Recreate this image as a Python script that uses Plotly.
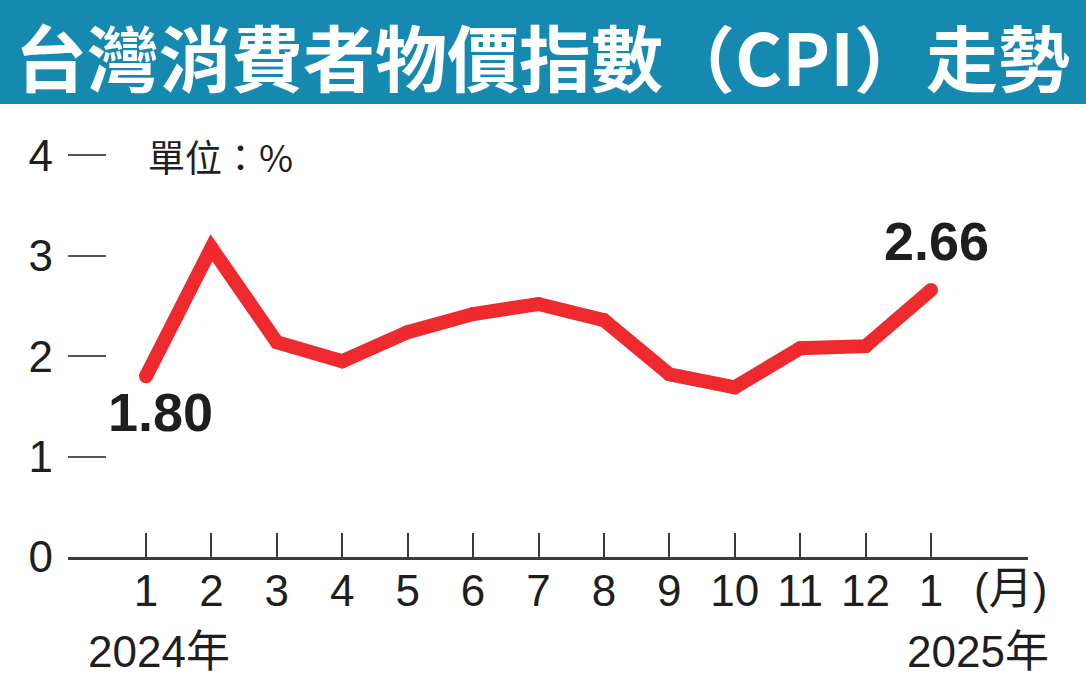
import plotly.graph_objects as go

# ---- data ----
month_labels = ["1", "2", "3", "4", "5", "6", "7", "8", "9", "10", "11", "12", "1"]
cpi_values = [1.80, 3.08, 2.14, 1.95, 2.24, 2.42, 2.52, 2.36, 1.82, 1.69, 2.08, 2.10, 2.66]
y_tick_vals = [0, 1, 2, 3, 4]
year_labels = ["2024年", "2025年"]
title_parts = ["台灣消費者物價指數", "（CPI）走勢"]
unit_text = "單位：%"
month_unit_text = "(月)"

x_pos = list(range(1, len(month_labels) + 1))

W, H = 1086, 681
L, R, T, B = 68, 58, 110, 123.5
plot_w = W - L - R
plot_h = H - T - B


def px_x(p):
    return (p - L) / plot_w


def px_y(p):
    return (H - B - p) / plot_h


RED = "#ee2a2e"
TXT = "#1e1e1e"
TITLE_SIZE = 72
TITLE_LEFT = 14

fig = go.Figure()
fig.add_trace(go.Scatter(
    x=x_pos, y=cpi_values, mode="lines+markers",
    line=dict(color=RED, width=14),
    marker=dict(color=RED, size=14, line=dict(width=0)),
    hoverinfo="skip", showlegend=False, cliponaxis=False,
))

title_font = dict(family="Noto Sans CJK TC", size=TITLE_SIZE, color="white", weight="bold")
annotations = [
    dict(x=px_x(TITLE_LEFT), y=px_y(0.5), xref="paper", yref="paper", text=title_parts[0],
         xanchor="left", yanchor="top", showarrow=False, borderpad=0, font=title_font),
    dict(x=px_x(TITLE_LEFT + TITLE_SIZE * len(title_parts[0])), y=px_y(0.5),
         xref="paper", yref="paper", text=title_parts[1],
         xanchor="left", yanchor="top", showarrow=False, borderpad=0, font=title_font),
    dict(x=x_pos[0], y=cpi_values[0], xref="x", yref="y", text=f"{cpi_values[0]:.2f}",
         xshift=14, yshift=-36, showarrow=False,
         font=dict(family="Liberation Sans", size=54, color=TXT, weight="bold")),
    dict(x=x_pos[-1], y=cpi_values[-1], xref="x", yref="y", text=f"{cpi_values[-1]:.2f}",
         xshift=5, yshift=49, showarrow=False,
         font=dict(family="Liberation Sans", size=54, color=TXT, weight="bold")),
    dict(x=px_x(146), y=px_y(156), xref="paper", yref="paper", text=unit_text,
         xanchor="left", yanchor="middle", showarrow=False,
         font=dict(family="Noto Sans CJK TC", size=37, color=TXT)),
    dict(x=px_x(1010), y=px_y(589), xref="paper", yref="paper", text=month_unit_text,
         xanchor="center", yanchor="middle", showarrow=False,
         font=dict(family="Liberation Sans, Noto Sans CJK TC", size=44, color=TXT)),
    dict(x=px_x(86), y=px_y(652), xref="paper", yref="paper", text=year_labels[0],
         xanchor="left", yanchor="middle", showarrow=False,
         font=dict(family="Liberation Sans, Noto Sans CJK TC", size=44, color=TXT)),
    dict(x=px_x(1051), y=px_y(652), xref="paper", yref="paper", text=year_labels[1],
         xanchor="right", yanchor="middle", showarrow=False,
         font=dict(family="Liberation Sans, Noto Sans CJK TC", size=44, color=TXT)),
]

shapes = [
    dict(type="rect", xref="paper", yref="paper",
         x0=px_x(0), x1=px_x(W), y0=px_y(104), y1=px_y(0),
         fillcolor="#1689b0", line=dict(width=0), layer="below"),
]

x0_range = 1 + (L - 146) / 65.417
x1_range = 1 + (W - R - 146) / 65.417

fig.update_layout(
    width=W, height=H,
    margin=dict(l=L, r=R, t=T, b=B, pad=0),
    paper_bgcolor="white", plot_bgcolor="white",
    annotations=annotations, shapes=shapes,
    xaxis=dict(
        range=[x0_range, x1_range], tickvals=x_pos, ticktext=month_labels,
        showline=True, linecolor="#3a3a3a", linewidth=3,
        ticks="inside", ticklen=24, tickwidth=2, tickcolor="#3a3a3a",
        showgrid=False, zeroline=False, fixedrange=True,
        tickfont=dict(family="Liberation Sans", size=44, color=TXT),
        ticklabelstandoff=-7,
    ),
    yaxis=dict(
        range=[0, plot_h / 100.5], tickvals=y_tick_vals,
        showline=False, ticks="inside", ticklen=38, tickwidth=2, tickcolor="#555555",
        showgrid=False, zeroline=False, fixedrange=True,
        tickfont=dict(family="Liberation Sans", size=44, color=TXT),
        ticklabelstandoff=14,
    ),
)

fig.write_html(
    "out.html",
    config={"displayModeBar": False},
    post_script="document.body.style.margin='0';document.body.style.overflow='hidden';",
)
